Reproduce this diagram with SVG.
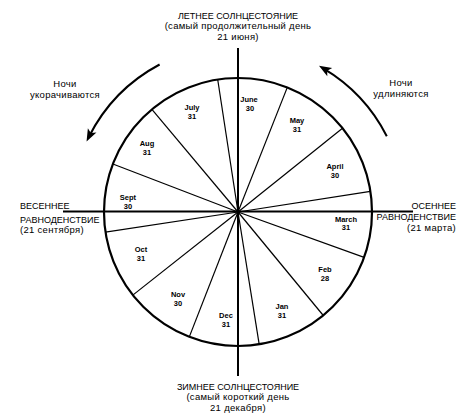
<svg xmlns="http://www.w3.org/2000/svg" width="464" height="420" viewBox="0 0 464 420">
<defs>
<marker id="ah" markerUnits="userSpaceOnUse" markerWidth="14" markerHeight="12" viewBox="-8 -6 14 12" refX="0" refY="0" orient="auto">
<path d="M5,0 L-7.5,-4.8 L-4.5,0 L-7.5,4.8 Z" fill="#000"/>
</marker>
</defs>
<style>
text{font-family:"Liberation Sans",Arial,sans-serif;fill:#000}
.t{font-size:9px}
.l{font-size:9.5px;letter-spacing:0.3px}
.m{font-size:7.5px;font-weight:bold;text-anchor:middle}
.c{text-anchor:middle}
.r{text-anchor:end}
.axis{stroke:#000;stroke-width:2;fill:none}
.spoke{stroke:#000;stroke-width:1.2;fill:none}
.rim{stroke:#000;stroke-width:2.2;fill:none}
.arc{stroke:#000;stroke-width:2;fill:none;marker-end:url(#ah)}
</style>
<g id="connectors">
<g id="spokes">
<line class="spoke" x1="238" y1="212" x2="217.7" y2="79.5"/>
<line class="spoke" x1="238" y1="212" x2="287.3" y2="87.4"/>
<line class="spoke" x1="238" y1="212" x2="342.5" y2="128.2"/>
<line class="spoke" x1="238" y1="212" x2="370.4" y2="191.3"/>
<line class="spoke" x1="238" y1="212" x2="364.1" y2="257.4"/>
<line class="spoke" x1="238" y1="212" x2="323.3" y2="315.5"/>
<line class="spoke" x1="238" y1="212" x2="259.2" y2="344.3"/>
<line class="spoke" x1="238" y1="212" x2="189.3" y2="336.9"/>
<line class="spoke" x1="238" y1="212" x2="132.8" y2="295.1"/>
<line class="spoke" x1="238" y1="212" x2="105.5" y2="232.1"/>
<line class="spoke" x1="238" y1="212" x2="112.9" y2="164.0"/>
<line class="spoke" x1="238" y1="212" x2="151.9" y2="109.4"/>
</g>
<line class="axis" x1="238" y1="48" x2="238" y2="376"/>
<line class="axis" x1="63" y1="211.5" x2="413" y2="211.5"/>
<path class="arc" d="M159.6,64.5 A167,167 0 0,0 88.8,137.0"/>
<path class="arc" d="M386.8,136.2 A167,167 0 0,0 323.3,68.4"/>
</g>
<g id="wheel">
<circle class="rim" cx="238" cy="212" r="134"/>
</g>
<g id="summer-solstice">
<text class="t c" x="238" y="18.5">ЛЕТНЕЕ СОЛНЦЕСТОЯНИЕ</text>
<text class="l c" x="238" y="29">(самый продолжительный день</text>
<text class="l c" x="238" y="39.5">21 июня)</text>
</g>
<g id="winter-solstice">
<text class="t c" x="238" y="389.5">ЗИМНЕЕ СОЛНЦЕСТОЯНИЕ</text>
<text class="l c" x="238" y="400">(самый короткий день</text>
<text class="l c" x="238" y="410.5">21 декабря)</text>
</g>
<g id="spring-equinox">
<text class="t" x="20" y="208.5">ВЕСЕННЕЕ</text>
<text class="t" x="20" y="223">РАВНОДЕНСТВИЕ</text>
<text class="l" x="20" y="232.5">(21 сентября)</text>
</g>
<g id="autumn-equinox">
<text class="t r" x="456" y="208.5">ОСЕННЕЕ</text>
<text class="t r" x="456" y="220">РАВНОДЕНСТВИЕ</text>
<text class="l r" x="456" y="231">(21 марта)</text>
</g>
<g id="nights-shorten">
<text class="l c" x="65" y="87">Ночи</text>
<text class="l c" x="65" y="98">укорачиваются</text>
</g>
<g id="nights-lengthen">
<text class="l c" x="401" y="86">Ночи</text>
<text class="l c" x="401" y="97">удлиняются</text>
</g>
<g id="june"><text class="m" x="249" y="101.5">June</text><text class="m" x="250" y="110.5">30</text></g>
<g id="july"><text class="m" x="192" y="109.5">July</text><text class="m" x="192" y="118.5">31</text></g>
<g id="may"><text class="m" x="297" y="122.5">May</text><text class="m" x="297" y="132">31</text></g>
<g id="april"><text class="m" x="335" y="168.5">April</text><text class="m" x="335" y="177.5">30</text></g>
<g id="march"><text class="m" x="346" y="221.5">March</text><text class="m" x="346" y="230">31</text></g>
<g id="feb"><text class="m" x="325" y="271.5">Feb</text><text class="m" x="325" y="280.5">28</text></g>
<g id="jan"><text class="m" x="282" y="308.5">Jan</text><text class="m" x="282" y="318">31</text></g>
<g id="dec"><text class="m" x="226" y="317.5">Dec</text><text class="m" x="226" y="326.5">31</text></g>
<g id="nov"><text class="m" x="178" y="296.5">Nov</text><text class="m" x="178" y="305.5">30</text></g>
<g id="oct"><text class="m" x="141" y="251.5">Oct</text><text class="m" x="141" y="260.5">31</text></g>
<g id="sept"><text class="m" x="128" y="199.5">Sept</text><text class="m" x="128" y="209">30</text></g>
<g id="aug"><text class="m" x="147" y="145.5">Aug</text><text class="m" x="147" y="154.5">31</text></g>
</svg>
